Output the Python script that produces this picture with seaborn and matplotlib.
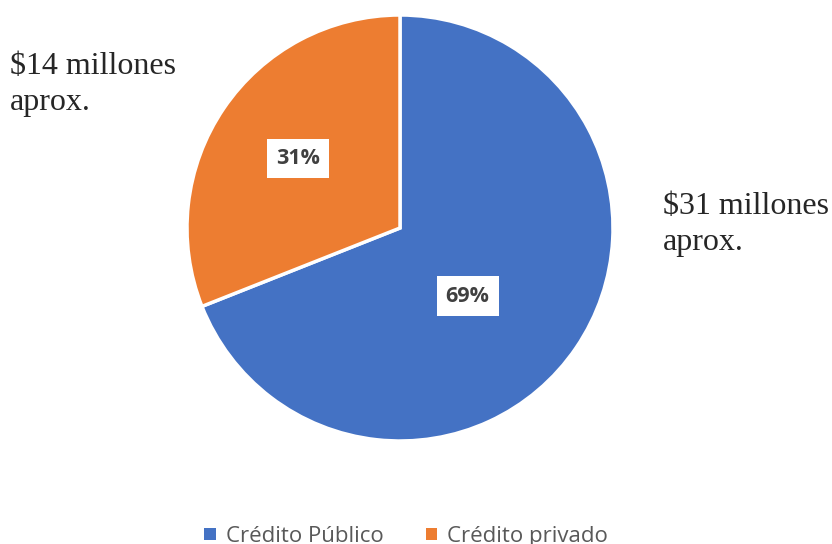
import numpy as np
import seaborn as sns
import matplotlib.pyplot as plt
from matplotlib.patches import Patch

sns.set_style("white")

categories = ['Crédito Público', 'Crédito privado']
shares = [69, 31]
side_notes = ['$31 millones\naprox.', '$14 millones\naprox.']
colors = ['#4472C4', '#ED7D31']

fig = plt.figure(figsize=(8.32, 5.44), dpi=100)
W, H = 832, 544
cx, cy, r = 400, 228, 213
ax = fig.add_axes([(cx - r) / W, (H - cy - r) / H, 2 * r / W, 2 * r / H])

wedges, _, pcts = ax.pie(shares, colors=colors, startangle=90, counterclock=False,
                         autopct='%1.0f%%', pctdistance=0.5,
                         wedgeprops=dict(edgecolor='white', linewidth=2.5))
ax.set_xlim(-1, 1)
ax.set_ylim(-1, 1)
ax.set_aspect('equal')
ax.axis('off')

# per-wedge label distance (Excel puts them a bit differently)
dists = [0.45, 0.58]
for w, t, d in zip(wedges, pcts, dists):
    ang = np.deg2rad((w.theta1 + w.theta2) / 2)
    off = -11 if d < 0.5 else 0
    ang = ang + np.deg2rad(off)
    t.set_position((d * np.cos(ang), d * np.sin(ang)))
    t.set_fontsize(15.5)
    t.set_fontweight('bold')
    t.set_color('#404040')
    t.set_family('Open Sans')
    t.set_bbox(dict(facecolor='white', edgecolor='none', boxstyle='square,pad=0.42'))

fig.text(663 / W, 1 - 192 / H, side_notes[0], fontsize=23, family='Liberation Serif',
         va='top', ha='left', linespacing=1.3)
fig.text(10 / W, 1 - 52 / H, side_notes[1], fontsize=23, family='Liberation Serif',
         va='top', ha='left', linespacing=1.3)

handles = [Patch(facecolor=c, edgecolor='none') for c in colors]
leg = fig.legend(handles, categories, loc='center', bbox_to_anchor=(0.488, 0.014),
                 ncol=2, frameon=False, handlelength=0.5, handleheight=0.5,
                 handletextpad=0.45, columnspacing=1.9,
                 prop={'family': 'Open Sans', 'size': 16})
for t in leg.get_texts():
    t.set_color('#595959')

fig.savefig('out.png', dpi=100)
